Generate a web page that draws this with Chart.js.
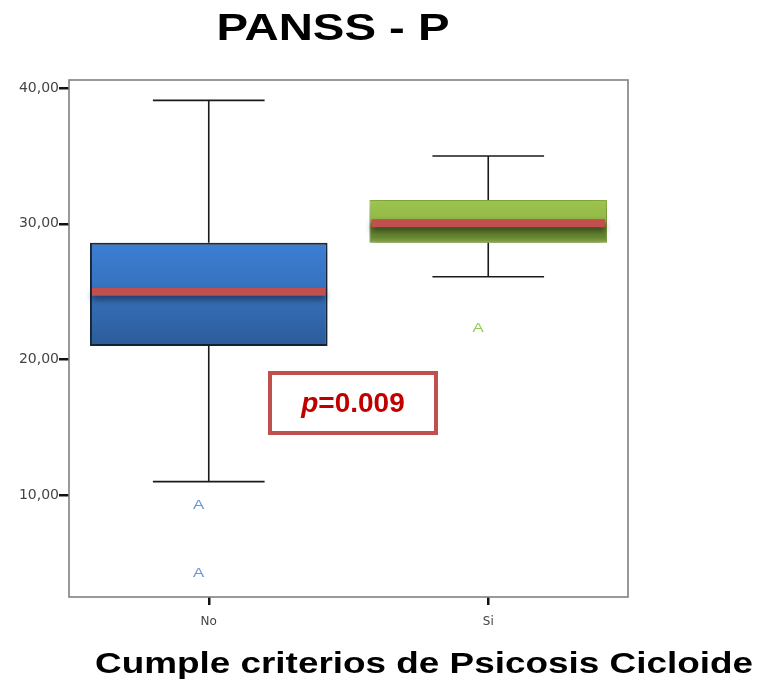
<!DOCTYPE html>
<html>
<head>
<meta charset="utf-8">
<script src="https://cdn.jsdelivr.net/npm/chart.js@4.4.1/dist/chart.umd.min.js"></script>
<style>
    html, body { margin: 0; padding: 0; background: #fff; }
    #wrap { width: 762px; height: 682px; }
</style>
</head>
<body>
<div id="wrap"><canvas id="panssBox"></canvas></div>
<script>
// box plot summary per group
const categories  = ['No', 'Si'];
const lowWhisker  = [11.0, 26.1];
const q1          = [21.0, 28.6];
const median      = [25.0, 30.05];
const q3          = [28.6, 31.75];
const highWhisker = [39.1, 35.0];
const outliersNo  = [9.3, 4.3];
const outliersSi  = [22.35];
const outliers    = [outliersNo, outliersSi];
const yTicks      = [10, 20, 30, 40];
const pValue      = '0.009';

const outlierColors = ['#6a96d6', '#92d050'];

function stretchText(ctx, text, cx, baseline, font, targetWidth, color) {
    ctx.save();
    ctx.font = font;
    const w = ctx.measureText(text).width;
    ctx.translate(cx, baseline);
    ctx.scale(targetWidth / w, 1);
    ctx.textAlign = 'center';
    ctx.textBaseline = 'alphabetic';
    ctx.fillStyle = color;
    ctx.fillText(text, 0, 0);
    ctx.restore();
}

function boxGradient(context) {
    const chart = context.chart;
    const i = context.dataIndex;
    if (!chart.chartArea || i === undefined) return i === 1 ? '#9bc34a' : '#3a78c8';
    const ys = chart.scales.y;
    const top = ys.getPixelForValue(q3[i]);
    const bot = ys.getPixelForValue(q1[i]);
    const g = chart.ctx.createLinearGradient(0, top, 0, bot);
    if (i === 0) {
        g.addColorStop(0, '#3d7fd4');
        g.addColorStop(0.5, '#3570bb');
        g.addColorStop(1, '#2c5c98');
    } else {
        g.addColorStop(0, '#9dc44d');
        g.addColorStop(0.45, '#93b948');
        g.addColorStop(0.62, '#5f7f30');
        g.addColorStop(0.88, '#688a34');
        g.addColorStop(1, '#84aa41');
    }
    return g;
}

const boxPlotParts = {
    id: 'boxPlotParts',
    beforeDatasetsDraw(chart) {
        const ctx = chart.ctx;
        const ys = chart.scales.y;
        const meta = chart.getDatasetMeta(0);
        ctx.save();
        ctx.strokeStyle = '#1a1a1a';
        ctx.lineWidth = 1.6;
        meta.data.forEach(function (bar, i) {
            const capHalf = bar.width * 0.235;
            const yHi = ys.getPixelForValue(highWhisker[i]);
            const yLo = ys.getPixelForValue(lowWhisker[i]);
            const yQ3 = ys.getPixelForValue(q3[i]);
            const yQ1 = ys.getPixelForValue(q1[i]);
            ctx.beginPath();
            ctx.moveTo(bar.x, yQ3); ctx.lineTo(bar.x, yHi);
            ctx.moveTo(bar.x - capHalf, yHi); ctx.lineTo(bar.x + capHalf, yHi);
            ctx.moveTo(bar.x, yQ1); ctx.lineTo(bar.x, yLo);
            ctx.moveTo(bar.x - capHalf, yLo); ctx.lineTo(bar.x + capHalf, yLo);
            ctx.stroke();
        });
        ctx.restore();
    },
    beforeDatasetDraw(chart) {
        const ctx = chart.ctx;
        ctx.save();
        ctx.shadowColor = 'rgba(0,0,0,0.4)';
        ctx.shadowBlur = 12;
        ctx.shadowOffsetY = 4;
    },
    afterDatasetDraw(chart) {
        chart.ctx.restore();
    },
    afterDatasetsDraw(chart) {
        const ctx = chart.ctx;
        const ys = chart.scales.y;
        const meta = chart.getDatasetMeta(0);
        meta.data.forEach(function (bar, i) {
            const ym = ys.getPixelForValue(median[i]);
            const half = bar.width / 2 - 2;
            ctx.save();
            ctx.shadowColor = 'rgba(0,0,0,0.45)';
            ctx.shadowBlur = 6;
            ctx.shadowOffsetY = 4;
            ctx.fillStyle = '#c0504d';
            ctx.fillRect(bar.x - half, ym - 4, half * 2, 8);
            ctx.restore();

            outliers[i].forEach(function (v) {
                ctx.save();
                ctx.font = '13px "Liberation Sans", Arial, sans-serif';
                ctx.translate(bar.x - 10, ys.getPixelForValue(v));
                ctx.scale(1.3, 1);
                ctx.fillStyle = outlierColors[i];
                ctx.textAlign = 'center';
                ctx.textBaseline = 'middle';
                ctx.fillText('A', 0, 1);
                ctx.restore();
            });
        });
    },
    afterDraw(chart) {
        const ctx = chart.ctx;
        const a = chart.chartArea;
        ctx.save();
        // plot frame
        ctx.strokeStyle = '#808080';
        ctx.lineWidth = 1.6;
        ctx.strokeRect(a.left, a.top, a.right - a.left, a.bottom - a.top);

        // p-value annotation
        ctx.strokeStyle = '#c0504d';
        ctx.lineWidth = 4;
        ctx.strokeRect(270, 373, 166, 60);
        ctx.font = 'italic bold 28px "Liberation Sans", Arial, sans-serif';
        const pW = ctx.measureText('p').width;
        ctx.font = 'bold 28px "Liberation Sans", Arial, sans-serif';
        const restW = ctx.measureText('=' + pValue).width;
        let x = 353 - (pW + restW) / 2;
        ctx.fillStyle = '#c00000';
        ctx.textBaseline = 'alphabetic';
        ctx.font = 'italic bold 28px "Liberation Sans", Arial, sans-serif';
        ctx.fillText('p', x, 412);
        ctx.font = 'bold 28px "Liberation Sans", Arial, sans-serif';
        ctx.fillText('=' + pValue, x + pW, 412);
        ctx.restore();

        stretchText(ctx, 'PANSS - P', 333, 40,
            'bold 37px "Liberation Sans", Arial, sans-serif', 233, '#000');
        stretchText(ctx, 'Cumple criterios de Psicosis Cicloide', 424, 673,
            'bold 29px "Liberation Sans", Arial, sans-serif', 658, '#000');
    }
};

new Chart(document.getElementById('panssBox'), {
    type: 'bar',
    data: {
        labels: categories,
        datasets: [{
            label: 'PANSS - P',
            data: categories.map(function (c, i) { return [q1[i], q3[i]]; }),
            backgroundColor: boxGradient,
            borderColor: ['#1c2b3f', '#8db344'],
            borderWidth: [2, 1],
            borderSkipped: false,
            barPercentage: 0.85,
            categoryPercentage: 1.0,
        }]
    },
    options: {
        responsive: true,
        maintainAspectRatio: false,
        animation: false,
        layout: { padding: { left: 0, right: 134, top: 80, bottom: 55 } },
        plugins: {
            legend: { display: false },
            tooltip: { enabled: false },
            title: { display: false }
        },
        scales: {
            x: {
                offset: true,
                afterFit: function (scale) { scale.height = 30; },
                grid: { drawOnChartArea: false, offset: false, tickLength: 8, tickColor: '#111', lineWidth: 2.5 },
                border: { display: false },
                ticks: { padding: 10, color: '#444', font: { family: "'DejaVu Sans', sans-serif", size: 12 } }
            },
            y: {
                min: 2.5,
                max: 40.6,
                afterFit: function (scale) { scale.width = 69; },
                afterBuildTicks: function (scale) {
                    scale.ticks = yTicks.map(function (v) { return { value: v }; });
                },
                grid: { drawOnChartArea: false, tickLength: 10, tickColor: '#111', lineWidth: 2.5 },
                border: { display: false },
                ticks: {
                    padding: 0,
                    color: '#444',
                    font: { family: "'DejaVu Sans', sans-serif", size: 14 },
                    callback: function (v) { return v.toFixed(2).replace('.', ','); }
                }
            }
        }
    },
    plugins: [boxPlotParts]
});
</script>
</body>
</html>
